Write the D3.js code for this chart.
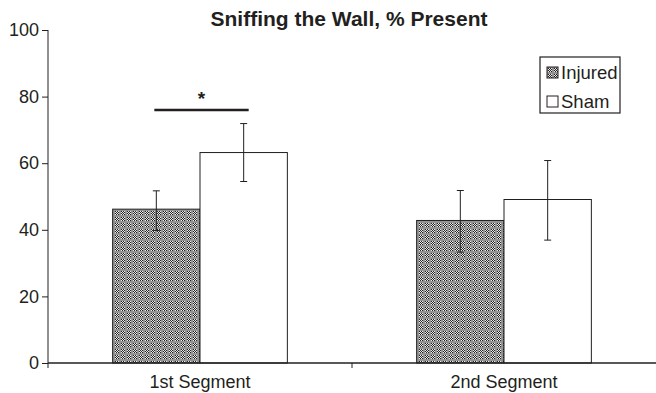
<!DOCTYPE html>
<html>
<head>
<meta charset="utf-8">
<script src="https://cdn.jsdelivr.net/npm/d3@7"></script>
<style>
  body { margin: 0; background: #fff; }
  text { font-family: "Liberation Sans", Arial, sans-serif; fill: #231f20; }
</style>
</head>
<body>
<svg width="656" height="393"></svg>
<script>
const categories = ['1st Segment', '2nd Segment'];
const groups = ['Injured', 'Sham'];
const injuredValues = [46.2, 42.8];
const shamValues = [63.2, 49.1];
const injuredErr = [[39.8, 51.7], [33.3, 51.8]];
const shamErr = [[54.5, 71.9], [36.9, 60.8]];
const yTicks = [0, 20, 40, 60, 80, 100];
const sigBar = { category: '1st Segment', value: 76, label: '*' };

const svg = d3.select('svg');
const width = +svg.attr('width');
const height = +svg.attr('height');

const margin = { top: 30, right: 0, bottom: 30, left: 48 };
const innerWidth = width - margin.left - margin.right;
const innerHeight = 363 - margin.top;

const data = categories.map((c, i) => ({
  category: c,
  bars: [
    { group: 'Injured', value: injuredValues[i], err: injuredErr[i] },
    { group: 'Sham', value: shamValues[i], err: shamErr[i] }
  ]
}));

// checkered fill for injured bars
const defs = svg.append('defs');
const pat = defs.append('pattern')
  .attr('id', 'checker')
  .attr('patternUnits', 'userSpaceOnUse')
  .attr('width', 6).attr('height', 6);
pat.append('rect').attr('width', 6).attr('height', 6).attr('fill', '#939393');
for (let i = 0; i < 4; i++) {
  for (let j = 0; j < 4; j++) {
    pat.append('rect')
      .attr('x', 1 + i).attr('y', 1 + j)
      .attr('width', 1).attr('height', 1)
      .attr('fill', (i + j) % 2 ? '#ebebeb' : '#222');
  }
}

const fillOf = g => g === 'Injured' ? 'url(#checker)' : '#fff';

const xScale = d3.scaleBand()
  .domain(categories)
  .range([0, innerWidth]);

const xSub = d3.scaleBand()
  .domain(groups)
  .range([0, xScale.bandwidth()])
  .paddingOuter(0.74);

const yScale = d3.scaleLinear()
  .domain([0, 100])
  .range([innerHeight, 0]);

const g = svg.append('g')
  .attr('transform', `translate(${margin.left}, ${margin.top})`);

// bars
const catG = g.selectAll('.cat').data(data)
  .enter().append('g')
    .attr('class', 'cat')
    .attr('transform', d => `translate(${xScale(d.category)}, 0)`);

catG.selectAll('rect').data(d => d.bars)
  .enter().append('rect')
    .attr('x', d => xSub(d.group))
    .attr('y', d => yScale(d.value))
    .attr('width', xSub.bandwidth())
    .attr('height', d => innerHeight - yScale(d.value))
    .attr('fill', d => fillOf(d.group))
    .attr('stroke', '#231f20')
    .attr('stroke-width', 1);

// error bars
const errG = catG.selectAll('.err').data(d => d.bars)
  .enter().append('g')
    .attr('class', 'err')
    .attr('transform', d => `translate(${xSub(d.group) + xSub.bandwidth() / 2}, 0)`);

errG.append('line')
  .attr('y1', d => yScale(d.err[0]))
  .attr('y2', d => yScale(d.err[1]))
  .attr('stroke', '#231f20');

errG.selectAll('.cap').data(d => d.err)
  .enter().append('line')
    .attr('x1', -3.5).attr('x2', 3.5)
    .attr('y1', v => yScale(v))
    .attr('y2', v => yScale(v))
    .attr('stroke', '#231f20');

// y axis
const yAxisG = g.append('g')
  .call(d3.axisLeft(yScale)
    .tickValues(yTicks)
    .tickSize(6)
    .tickPadding(3));
yAxisG.select('.domain')
  .attr('d', `M0,${yScale(100)}V${innerHeight + 5}`)
  .attr('stroke', '#231f20');
yAxisG.selectAll('.tick line').attr('stroke', '#231f20');
yAxisG.selectAll('.tick text')
  .attr('font-size', 18)
  .attr('fill', '#231f20')
  .attr('font-family', '"Liberation Sans", Arial, sans-serif');

// x axis
const xAxisG = g.append('g')
  .attr('transform', `translate(0, ${innerHeight})`)
  .call(d3.axisBottom(xScale).tickSize(0).tickPadding(12));
xAxisG.select('.domain')
  .attr('d', `M0,0H${innerWidth}`)
  .attr('stroke', '#231f20')
  .attr('stroke-width', 1.5);
xAxisG.selectAll('.tick text')
  .attr('font-size', 18)
  .attr('fill', '#231f20')
  .attr('font-family', '"Liberation Sans", Arial, sans-serif');

// divider tick between the categories
xAxisG.append('line')
  .attr('x1', xScale(categories[1]))
  .attr('x2', xScale(categories[1]))
  .attr('y1', 0).attr('y2', 5)
  .attr('stroke', '#231f20');

// significance bar
const sigX = xScale(sigBar.category);
const sx1 = sigX + xSub('Injured') + xSub.bandwidth() / 2 - 2;
const sx2 = sigX + xSub('Sham') + xSub.bandwidth() / 2 + 5;
g.append('line')
  .attr('x1', sx1).attr('x2', sx2)
  .attr('y1', yScale(sigBar.value)).attr('y2', yScale(sigBar.value))
  .attr('stroke', '#231f20')
  .attr('stroke-width', 2.5);
g.append('text')
  .attr('x', (sx1 + sx2) / 2)
  .attr('y', yScale(sigBar.value) - 5)
  .attr('text-anchor', 'middle')
  .attr('font-size', 19)
  .attr('font-weight', 'bold')
  .text(sigBar.label);

// title
svg.append('text')
  .attr('x', 349)
  .attr('y', 26)
  .attr('text-anchor', 'middle')
  .attr('font-size', 21)
  .attr('font-weight', 'bold')
  .text('Sniffing the Wall, % Present');

// legend
const legend = svg.append('g').attr('transform', 'translate(540, 57)');
legend.append('rect')
  .attr('width', 80).attr('height', 56)
  .attr('fill', '#fff')
  .attr('stroke', '#231f20')
  .attr('stroke-width', 1.2);
const items = legend.selectAll('.item').data(groups)
  .enter().append('g')
    .attr('class', 'item')
    .attr('transform', (d, i) => `translate(7, ${10 + i * 29})`);
items.append('rect')
  .attr('width', 11).attr('height', 11)
  .attr('fill', d => fillOf(d))
  .attr('stroke', '#231f20');
items.append('text')
  .attr('x', 14)
  .attr('y', 11.5)
  .attr('font-size', 18.5)
  .text(d => d);
</script>
</body>
</html>
